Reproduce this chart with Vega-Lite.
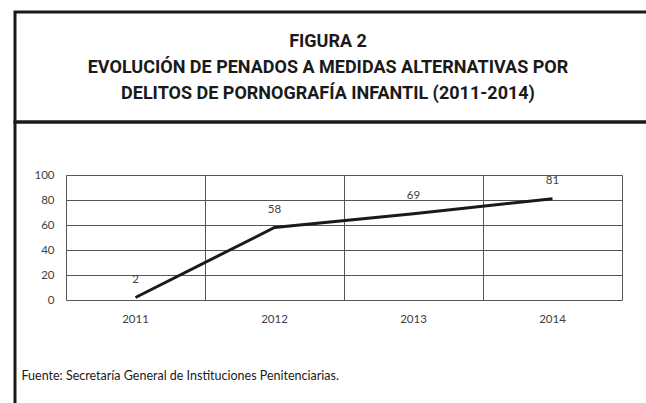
{
  "$schema": "https://vega.github.io/schema/vega-lite/v6.json",
  "padding": {"left": 13, "top": 10, "right": 0, "bottom": 0},
  "background": "white",
  "spacing": 0,
  "bounds": "flush",
  "config": {
    "view": {"stroke": "#1a1a1a", "strokeWidth": 3},
    "concat": {"spacing": 0}
  },
  "datasets": {
    "serie": [
      {"anio": "2011", "penados": 2},
      {"anio": "2012", "penados": 58},
      {"anio": "2013", "penados": 69},
      {"anio": "2014", "penados": 81}
    ],
    "titulo": [
      {"linea": "FIGURA 2"}
    ]
  },
  "vconcat": [
    {
      "width": 700,
      "height": 110,
      "view": {"stroke": "#1a1a1a", "strokeWidth": 3},
      "data": {"name": "titulo"},
      "mark": {
        "type": "text",
        "font": "Roboto",
        "fontWeight": "bold",
        "fontSize": 18,
        "lineHeight": 26,
        "color": "#1a1a1a",
        "align": "center",
        "baseline": "middle",
        "dx": -37,
        "dy": -25
      },
      "encoding": {
        "text": {"value": ["FIGURA 2", "EVOLUCIÓN DE PENADOS A MEDIDAS ALTERNATIVAS POR", "DELITOS DE PORNOGRAFÍA INFANTIL (2011-2014)"]}
      }
    },
    {
      "width": 700,
      "height": 300,
      "view": {"stroke": "#1a1a1a", "strokeWidth": 3},
      "data": {"name": "serie"},
      "resolve": {"axis": {"x": "independent"}},
      "encoding": {
        "y": {
          "field": "penados",
          "type": "quantitative",
          "scale": {"domain": [0, 100], "range": [178, 53], "nice": false, "zero": true},
          "axis": {
            "orient": "left",
            "offset": -51,
            "title": null,
            "values": [0, 20, 40, 60, 80, 100],
            "labelFont": "Lato",
            "labelFontSize": 11.5,
            "labelColor": "#404040",
            "labelPadding": 12,
            "ticks": false,
            "domain": false,
            "grid": true,
            "gridColor": "#555555",
            "gridWidth": 1,
            "gridOpacity": 1
          }
        }
      },
      "layer": [
        {
          "mark": {"type": "line", "color": "#1a1a1a", "strokeWidth": 3, "strokeCap": "butt"},
          "encoding": {
            "x": {
              "field": "anio",
              "type": "nominal",
              "scale": {"type": "band", "range": [51, 607], "paddingInner": 0, "paddingOuter": 0},
              "axis": {
                "orient": "bottom",
                "offset": -122,
                "title": "Fuente: Secretaría General de Instituciones Penitenciarias.",
                "titleFont": "Lato",
                "titleFontWeight": "normal",
                "titleFontSize": 12.5,
                "titleColor": "#1a1a1a",
                "titleAnchor": "start",
                "titleAlign": "left",
                "titleBaseline": "middle",
                "titleX": 6,
                "titleY": 75,
                "labelAngle": 0,
                "labelFont": "Lato",
                "labelFontSize": 11.5,
                "labelColor": "#404040",
                "labelPadding": 13,
                "ticks": false,
                "domain": false,
                "grid": false
              }
            }
          }
        },
        {
          "mark": {"type": "text", "font": "Lato", "fontSize": 11.5, "color": "#404040", "dy": -18, "baseline": "middle", "align": "center"},
          "encoding": {
            "x": {
              "field": "anio",
              "type": "nominal",
              "scale": {"type": "band", "range": [51, 607], "paddingInner": 0, "paddingOuter": 0},
              "axis": {
                "orient": "top",
                "offset": -53,
                "title": null,
                "labels": false,
                "ticks": false,
                "domain": false,
                "grid": true,
                "tickBand": "extent",
                "gridColor": "#555555",
                "gridWidth": 1,
                "gridOpacity": 1
              }
            },
            "text": {"field": "penados", "type": "quantitative"}
          }
        }
      ]
    }
  ]
}
